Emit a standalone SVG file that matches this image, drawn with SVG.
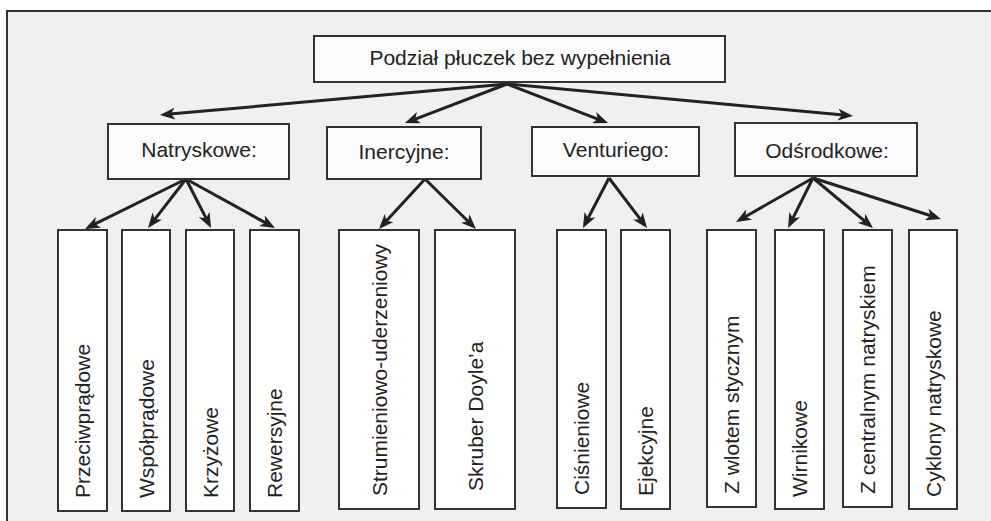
<svg xmlns="http://www.w3.org/2000/svg" width="991" height="521" viewBox="0 0 991 521">
<style>
.box{fill:#fbfbfb;stroke:#333;stroke-width:2}
.leaf{fill:#ffffff;stroke:#333;stroke-width:2}
.t{font-family:"Liberation Sans",Arial,sans-serif;font-size:21px;fill:#222}
.c{text-anchor:middle}
.conn{stroke:#222;stroke-width:3;fill:none;marker-end:url(#ah)}
</style>
<defs>
<marker id="ah" markerUnits="userSpaceOnUse" markerWidth="16" markerHeight="12" viewBox="0 0 16 12" refX="11" refY="6" orient="auto">
<path d="M0,0 L15,6 L0,12 L4,6 z" fill="#222"/>
</marker>
</defs>
<rect x="0" y="0" width="991" height="521" fill="#ffffff"/>
<rect x="7" y="11" width="984" height="510" fill="#eff0f2"/>
<path d="M7,521 V11 H991" fill="none" stroke="#333" stroke-width="2"/>

<g id="connectors">
<line class="conn" x1="507" y1="84" x2="164" y2="114.6"/>
<line class="conn" x1="507" y1="84" x2="408.7" y2="121.6"/>
<line class="conn" x1="507" y1="84" x2="604.3" y2="121.6"/>
<line class="conn" x1="507" y1="84" x2="849" y2="115.6"/>
<line class="conn" x1="186" y1="179" x2="88.6" y2="227.2"/>
<line class="conn" x1="186" y1="179" x2="150.5" y2="224.8"/>
<line class="conn" x1="186" y1="179" x2="209.2" y2="224.4"/>
<line class="conn" x1="186" y1="179" x2="271.5" y2="226.1"/>
<line class="conn" x1="425" y1="179" x2="381.7" y2="226.1"/>
<line class="conn" x1="425" y1="179" x2="473.1" y2="226.2"/>
<line class="conn" x1="609" y1="178" x2="584.8" y2="224.5"/>
<line class="conn" x1="609" y1="178" x2="644.6" y2="224.8"/>
<line class="conn" x1="813" y1="178" x2="739.5" y2="220"/>
<line class="conn" x1="813" y1="178" x2="789.8" y2="224.4"/>
<line class="conn" x1="813" y1="178" x2="869.9" y2="225.4"/>
<line class="conn" x1="813" y1="178" x2="937.2" y2="217.8"/>
</g>

<g id="root">
<rect class="box" x="314" y="36" width="411" height="46"/>
<text class="t c" x="520" y="65">Podział płuczek bez wypełnienia</text>
</g>

<g id="natryskowe">
<rect class="box" x="108" y="124" width="181" height="55"/>
<text class="t c" x="199" y="157">Natryskowe:</text>
</g>
<g id="inercyjne">
<rect class="box" x="327" y="127" width="154" height="52"/>
<text class="t c" x="404" y="159">Inercyjne:</text>
</g>
<g id="venturiego">
<rect class="box" x="532" y="127" width="167" height="49"/>
<text class="t c" x="616" y="157">Venturiego:</text>
</g>
<g id="odsrodkowe">
<rect class="box" x="735" y="123" width="182" height="53"/>
<text class="t c" x="827" y="158">Odśrodkowe:</text>
</g>

<g id="przeciwpradowe">
<rect class="leaf" x="58" y="230" width="49" height="281"/>
<text class="t" transform="translate(90,498) rotate(-90)">Przeciwprądowe</text>
</g>
<g id="wspolpradowe">
<rect class="leaf" x="122" y="230" width="48" height="281"/>
<text class="t" transform="translate(153.5,498) rotate(-90)">Współprądowe</text>
</g>
<g id="krzyzowe">
<rect class="leaf" x="186" y="230" width="48" height="281"/>
<text class="t" transform="translate(217.5,498) rotate(-90)">Krzyżowe</text>
</g>
<g id="rewersyjne">
<rect class="leaf" x="250" y="230" width="49" height="281"/>
<text class="t" transform="translate(282,498) rotate(-90)">Rewersyjne</text>
</g>

<g id="strumieniowo">
<rect class="leaf" x="339" y="230" width="80" height="279"/>
<text class="t" transform="translate(386.5,496) rotate(-90)">Strumieniowo-uderzeniowy</text>
</g>
<g id="skruber">
<rect class="leaf" x="435" y="230" width="80" height="279"/>
<text class="t" transform="translate(482.5,491) rotate(-90)">Skruber Doyle’a</text>
</g>

<g id="cisnieniowe">
<rect class="leaf" x="557" y="230" width="49" height="278"/>
<text class="t" transform="translate(589,495) rotate(-90)">Ciśnieniowe</text>
</g>
<g id="ejekcyjne">
<rect class="leaf" x="621" y="230" width="49" height="279"/>
<text class="t" transform="translate(653,496) rotate(-90)">Ejekcyjne</text>
</g>

<g id="zwlotem">
<rect class="leaf" x="707" y="230" width="49" height="277"/>
<text class="t" transform="translate(739,494) rotate(-90)">Z wlotem stycznym</text>
</g>
<g id="wirnikowe">
<rect class="leaf" x="775" y="230" width="49" height="279"/>
<text class="t" transform="translate(807,497) rotate(-90)">Wirnikowe</text>
</g>
<g id="zcentralnym">
<rect class="leaf" x="843" y="230" width="49" height="277"/>
<text class="t" transform="translate(875,494) rotate(-90)">Z centralnym natryskiem</text>
</g>
<g id="cyklony">
<rect class="leaf" x="909" y="230" width="48" height="279"/>
<text class="t" transform="translate(940.5,497) rotate(-90)">Cyklony natryskowe</text>
</g>
</svg>
